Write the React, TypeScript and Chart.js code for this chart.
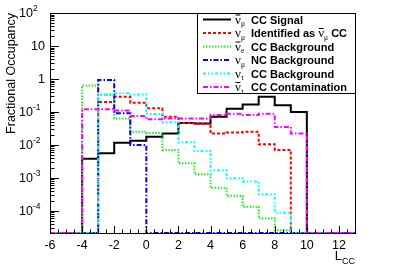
import { useEffect, useRef } from "react";
import { Chart, registerables } from "chart.js";

Chart.register(...registerables);

// ---- data ----
const BIN_LOW = [-6, -5, -4, -3, -2, -1, 0, 1, 2, 3, 4, 5, 6, 7, 8, 9, 10, 11, 12];
const X_MIN = -6;
const X_MAX = 13;
const Y_MIN = 2.15e-5;
const Y_MAX = 100;

const SIGNAL = [0, 0, 0.0038, 0.0056, 0.0117, 0.0135, 0.0178, 0.0224, 0.046, 0.045, 0.072, 0.125, 0.17, 0.29, 0.16, 0.1, 0, 0, 0];
const NUMU_MISID = [0, 0, 0, 0.2, 0.29, 0.19, 0.13, 0.072, 0.046, 0.044, 0.0224, 0.024, 0.025, 0.0105, 0.0071, 0, 0, 0, 0];
const NUEBAR_CC = [0, 0, 0.63, 0.34, 0.064, 0.025, 0.023, 0.0071, 0.0028, 0.0013, 5.1e-4, 2.9e-4, 1.35e-4, 6e-5, 2.6e-5, 0, 0, 0, 0];
const NUMU_NC = [0, 0, 0, 0.93, 0.092, 0.01, 0, 0, 0, 0, 0, 0, 0, 0, 0, 0, 0, 0, 0];
const NUTAU_CC = [0, 0, 0, 0.33, 0.37, 0.34, 0.087, 0.049, 0.012, 0.0066, 0.0017, 9.8e-4, 7.8e-4, 3.2e-4, 8.9e-5, 0, 0, 0, 0];
const NUTAUBAR_CC = [0, 0, 0.12, 0.12, 0.11, 0.075, 0.06, 0.064, 0.064, 0.064, 0.081, 0.088, 0.081, 0.088, 0.035, 0.0224, 0, 0, 0];

const X_TICKS = [-6, -4, -2, 0, 2, 4, 6, 8, 10, 12];
const Y_TICK_EXP = [2, 1, 0, -1, -2, -3, -4];

const Y_TITLE = "Fractional Occupancy";
const X_TITLE_MAIN = "L";
const X_TITLE_SUB = "CC";

// legend entries: neutrino symbol (bar?, subscript), text
const LEG_BAR = [true, false, true, false, false, true];
const LEG_SUB = ["μ", "μ", "e", "μ", "τ", "τ"];
const LEG_TEXT = ["CC Signal", "Identified as", "CC Background", "NC Background", "CC Background", "CC Contamination"];

const SERIES = [SIGNAL, NUMU_MISID, NUEBAR_CC, NUMU_NC, NUTAU_CC, NUTAUBAR_CC];
const COLORS = ["#000000", "#ff0000", "#22ee22", "#0000ff", "#00ffff", "#ff00ff"];
const DASHES: number[][] = [[], [3, 2], [1.5, 1.5], [5, 2, 1.5, 2], [3, 2, 1.5, 2, 1.5, 2], [5, 2, 1.5, 2]];

const SANS = "'Liberation Sans', Arial, Helvetica, sans-serif";
const SERIF = "'Liberation Serif', 'DejaVu Serif', serif";

function drawNu(ctx: CanvasRenderingContext2D, x: number, yc: number, bar: boolean, sub: string): number {
  ctx.font = `13px ${SERIF}`;
  ctx.textAlign = "left";
  ctx.textBaseline = "alphabetic";
  const base = yc + 4;
  ctx.fillText("ν", x, base);
  const w = ctx.measureText("ν").width;
  if (bar) {
    ctx.save();
    ctx.lineWidth = 1;
    ctx.strokeStyle = "#000";
    ctx.beginPath();
    ctx.moveTo(x + 0.5, base - 8.5);
    ctx.lineTo(x + w - 0.5, base - 8.5);
    ctx.stroke();
    ctx.restore();
  }
  ctx.font = `7.5px ${SERIF}`;
  ctx.fillText(sub, x + w, base + 2.5);
  const sw = ctx.measureText(sub).width;
  return x + w + sw;
}

const rootPlugin = {
  id: "rootStyle",
  afterDatasetsDraw(chart: any) {
    const { ctx, chartArea: a } = chart;
    const xs = chart.scales.x;
    const ys = chart.scales.y;
    ctx.save();
    ctx.strokeStyle = "#000";
    ctx.fillStyle = "#000";
    ctx.lineWidth = 1;
    ctx.setLineDash([]);
    // frame
    ctx.strokeRect(Math.round(a.left) + 0.5, Math.round(a.top) + 0.5, Math.round(a.right - a.left), Math.round(a.bottom - a.top));

    // y ticks (log)
    ctx.beginPath();
    for (let e = -6; e <= 2; e++) {
      for (let m = 1; m <= 9; m++) {
        const v = m * Math.pow(10, e);
        if (v < Y_MIN * 0.999 || v > Y_MAX * 1.001) continue;
        const py = Math.round(ys.getPixelForValue(v)) + 0.5;
        const len = m === 1 ? 9 : 4.5;
        ctx.moveTo(a.left, py);
        ctx.lineTo(a.left + len, py);
      }
    }
    // x ticks
    for (let v = X_MIN; v <= X_MAX + 1e-6; v += 0.5) {
      const px = Math.round(xs.getPixelForValue(v)) + 0.5;
      const major = Math.abs(v) % 2 === 0;
      const len = major ? 7 : 3.5;
      ctx.moveTo(px, a.bottom);
      ctx.lineTo(px, a.bottom - len);
    }
    ctx.stroke();

    // x tick labels
    ctx.font = `12.5px ${SANS}`;
    ctx.textAlign = "center";
    ctx.textBaseline = "top";
    for (const v of X_TICKS) {
      ctx.fillText(String(v), xs.getPixelForValue(v), a.bottom + 6);
    }

    // y tick labels
    for (const e of Y_TICK_EXP) {
      const py = ys.getPixelForValue(Math.pow(10, e));
      ctx.font = `12.5px ${SANS}`;
      ctx.textBaseline = "middle";
      if (e === 0 || e === 1) {
        ctx.textAlign = "right";
        ctx.fillText(e === 0 ? "1" : "10", a.left - 5, py + 1);
      } else {
        ctx.textAlign = "right";
        ctx.fillText("10", a.left - 17, py + 1);
        ctx.textAlign = "left";
        ctx.font = `8.5px ${SANS}`;
        ctx.fillText(String(e), a.left - 17, py - 4);
      }
    }

    // y title
    ctx.save();
    ctx.translate(12, a.top);
    ctx.rotate(-Math.PI / 2);
    ctx.font = `12.5px ${SANS}`;
    ctx.textAlign = "right";
    ctx.textBaseline = "middle";
    ctx.fillText(Y_TITLE, 0, 0);
    ctx.restore();

    // x title
    ctx.font = `9px ${SANS}`;
    ctx.textAlign = "right";
    ctx.textBaseline = "alphabetic";
    const subW = ctx.measureText(X_TITLE_SUB).width;
    ctx.fillText(X_TITLE_SUB, a.right, 264);
    ctx.font = `13px ${SANS}`;
    ctx.fillText(X_TITLE_MAIN, a.right - subW, 260);

    // legend
    const lx0 = 197.5, ly0 = Math.round(a.top) + 0.5, lx1 = Math.round(a.right) + 0.5, ly1 = 93.5;
    ctx.fillStyle = "#fff";
    ctx.fillRect(lx0, ly0, lx1 - lx0, ly1 - ly0);
    ctx.strokeStyle = "#000";
    ctx.lineWidth = 1;
    ctx.strokeRect(lx0, ly0, lx1 - lx0, ly1 - ly0);
    const rowH = 13.5;
    for (let i = 0; i < SERIES.length; i++) {
      const yc = 19.5 + i * rowH;
      ctx.save();
      ctx.strokeStyle = COLORS[i];
      ctx.lineWidth = 2;
      ctx.setLineDash(DASHES[i]);
      ctx.beginPath();
      ctx.moveTo(203, yc);
      ctx.lineTo(231, yc);
      ctx.stroke();
      ctx.restore();
      ctx.fillStyle = "#000";
      drawNu(ctx, 235, yc, LEG_BAR[i], LEG_SUB[i]);
      ctx.font = `bold 11px ${SANS}`;
      ctx.textAlign = "left";
      ctx.textBaseline = "alphabetic";
      ctx.fillText(LEG_TEXT[i], 251, yc + 4);
      if (i === 1) {
        const tw = ctx.measureText(LEG_TEXT[i] + " ").width;
        const nx = drawNu(ctx, 251 + tw, yc, true, "μ");
        ctx.font = `bold 11px ${SANS}`;
        ctx.fillText("CC", nx + 3, yc + 4);
      }
    }
    ctx.restore();
  },
};

export default function App() {
  const canvasRef = useRef<HTMLCanvasElement | null>(null);

  useEffect(() => {
    const canvas = canvasRef.current;
    if (!canvas) return;
    const datasets = SERIES.map((vals, i) => {
      const pts = BIN_LOW.map((x, j) => ({ x, y: vals[j] > 0 ? vals[j] : Y_MIN }));
      const last = vals[vals.length - 1];
      pts.push({ x: X_MAX, y: last > 0 ? last : Y_MIN });
      return {
        label: LEG_TEXT[i],
        data: pts,
        borderColor: COLORS[i],
        backgroundColor: COLORS[i],
        borderWidth: 2,
        borderDash: DASHES[i],
        pointRadius: 0,
        stepped: "before" as const,
        fill: false,
        order: SERIES.length - 1 - i,
      };
    });
    const chart = new Chart(canvas, {
      type: "line",
      data: { datasets },
      options: {
        animation: false,
        responsive: false,
        devicePixelRatio: 1,
        layout: { padding: { left: 50, top: 13, right: 40, bottom: 34 } },
        plugins: { legend: { display: false }, tooltip: { enabled: false } },
        scales: {
          x: { type: "linear", min: X_MIN, max: X_MAX, display: false },
          y: { type: "logarithmic", min: Y_MIN, max: Y_MAX, display: false },
        },
      },
      plugins: [rootPlugin],
    });
    return () => chart.destroy();
  }, []);

  return (
    <div style={{ position: "absolute", left: 0, top: 0, width: 395, height: 267, background: "#fff" }}>
      <canvas ref={canvasRef} width={395} height={267} style={{ display: "block" }} />
    </div>
  );
}
